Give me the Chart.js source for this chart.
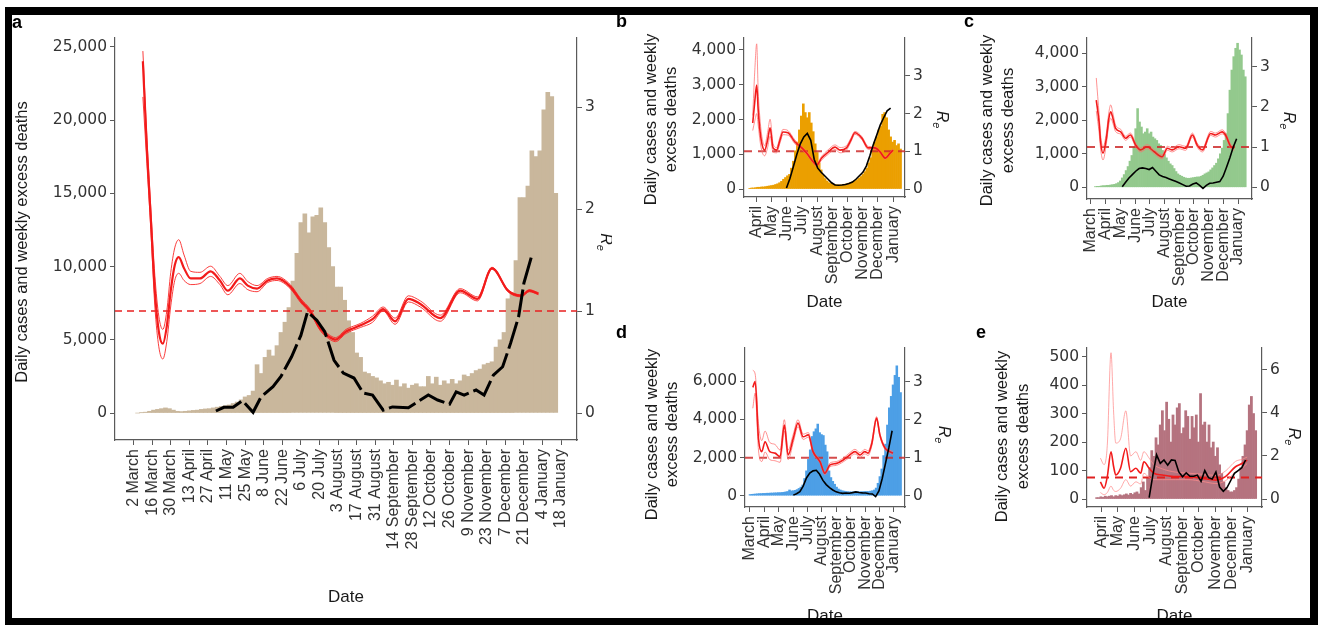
<!DOCTYPE html>
<html lang="en">
<head>
<meta charset="UTF-8">
<title>Daily cases, weekly excess deaths and Re</title>
<script src="https://cdn.jsdelivr.net/npm/chart.js@4.4.1/dist/chart.umd.min.js"></script>
<style>
  html, body { margin: 0; padding: 0; background: #fff; }
  body { width: 1318px; height: 625px; position: relative; overflow: hidden; font-family: "Liberation Sans", Arial, sans-serif; }
  canvas.panel { position: absolute; }
  .frame { position: absolute; left: 5px; top: 7px; width: 1313px; height: 618px; box-sizing: border-box;
           border: 8px solid #000; border-left-width: 7px; border-bottom-width: 7px; pointer-events: none; z-index: 5; }
  .tag { position: absolute; font: bold 18px/18px "Liberation Sans", Arial, sans-serif; color: #000; z-index: 6; }
</style>
</head>
<body>
<div class="frame"></div>
<div class="tag" style="left:12px;top:13px">a</div>
<div class="tag" style="left:616px;top:12px">b</div>
<div class="tag" style="left:964px;top:12px">c</div>
<div class="tag" style="left:616px;top:323px">d</div>
<div class="tag" style="left:976px;top:323px">e</div>

<script>
// days are counted from 2 March 2020 (day 0)
const R_ONE = 1;

// ---- tick labels ----
const tickDaysA = [0, 14, 28, 42, 56, 70, 84, 98, 112, 126, 140, 154, 168, 182, 196, 210, 224, 238, 252, 266, 280, 294, 308, 322];
const tickLabelsA = ['2 March', '16 March', '30 March', '13 April', '27 April', '11 May', '25 May', '8 June', '22 June',
  '6 July', '20 July', '3 August', '17 August', '31 August', '14 September', '28 September', '12 October',
  '26 October', '9 November', '23 November', '7 December', '21 December', '4 January', '18 January'];
const monthDays = [-1, 30, 60, 91, 121, 152, 183, 213, 244, 274, 305];
const monthLabels = ['March', 'April', 'May', 'June', 'July', 'August', 'September', 'October', 'November', 'December', 'January'];

// ---- panel a ----
const casesA = [ // every 3 days from day 3
  0, 20, 60, 120, 200, 250, 300, 350, 300, 200,
  120, 100, 120, 150, 180, 200, 250, 280, 300, 350,
  400, 450, 500, 550, 650, 750, 900, 1100, 1200, 1500,
  3300, 2700, 3800, 4300, 3900, 4600, 5500, 6200, 7200, 9000,
  10900, 13000, 13600, 12300, 13400, 13500, 14000, 13000, 11300, 10000,
  8600, 8600, 7700, 6300, 5500, 4100, 3800, 2800, 2700, 2500,
  2400, 2200, 2000, 2100, 1900, 2250, 1800, 2000, 1700, 1900,
  2000, 1800, 1800, 2500, 2000, 2450, 1900, 2200, 2000, 2300,
  2000, 2200, 2600, 2500, 2700, 2900, 3000, 3300, 3400, 3500,
  4500, 5000, 5500, 7800, 8200, 10400, 14700, 14700, 15500, 17900,
  17500, 17900, 20700, 21900, 21600, 15000];
const deathDaysA = [62, 68, 75, 82, 90, 96, 105, 111, 119, 126, 131, 138, 144, 151, 158, 166, 173, 180, 188, 195,
  207, 222, 229, 238, 243, 249, 258, 264, 271, 278, 284, 290, 294, 300];
const deathsA = [140, 390, 390, 840, 50, 1100, 1800, 2500, 3840, 5300, 6900, 6340, 5550, 3600, 2730, 2390, 1360, 1230, 200, 420,
  360, 1230, 890, 610, 1450, 1230, 1570, 1230, 2590, 3160, 4770, 6570, 8870, 10780];
const rDaysA = [7, 10, 13, 16, 19, 22, 25, 28, 31, 34, 38, 43, 50, 58, 65, 71, 80, 86, 93, 101, 108, 118, 126, 133, 141,
  147, 152, 160, 171, 180, 188, 197, 207, 216, 231, 246, 259, 270, 282, 292, 298, 305];
const rMedA = [3.45, 2.6, 1.9, 1.2, 0.8, 0.68, 0.85, 1.2, 1.45, 1.53, 1.42, 1.32, 1.32, 1.39, 1.30, 1.20, 1.32, 1.25, 1.22, 1.30,
  1.32, 1.24, 1.10, 1.0, 0.82, 0.75, 0.72, 0.80, 0.86, 0.92, 1.02, 0.90, 1.12, 1.07, 0.93, 1.20, 1.12, 1.42, 1.20, 1.15, 1.20, 1.17];
const rHiA = [3.55, 2.7, 2.0, 1.35, 0.95, 0.82, 1.0, 1.38, 1.62, 1.70, 1.55, 1.39, 1.38, 1.44, 1.34, 1.25, 1.37, 1.29, 1.25, 1.32,
  1.34, 1.26, 1.12, 1.02, 0.84, 0.77, 0.74, 0.82, 0.88, 0.95, 1.04, 0.93, 1.15, 1.10, 0.96, 1.22, 1.14, 1.43, 1.21, 1.16, 1.21, 1.18];
const rLoA = [3.1, 2.45, 1.8, 1.05, 0.65, 0.53, 0.7, 1.05, 1.3, 1.37, 1.3, 1.26, 1.27, 1.34, 1.26, 1.16, 1.27, 1.21, 1.19, 1.28,
  1.30, 1.22, 1.08, 0.98, 0.80, 0.73, 0.70, 0.78, 0.84, 0.89, 1.0, 0.87, 1.09, 1.04, 0.90, 1.18, 1.10, 1.41, 1.19, 1.14, 1.19, 1.16];

// ---- panel b ----
const casesB = [ // every 4 days from day 16
  20, 30, 30, 40, 50, 50, 60, 60, 70, 80,
  90, 100, 110, 130, 150, 180, 220, 280, 330, 380,
  420, 600, 800, 1100, 1350, 1700, 2100, 2450, 2200, 2050,
  2200, 1900, 1650, 1300, 1050, 750, 550, 400, 300, 230,
  180, 160, 140, 130, 120, 115, 120, 130, 140, 150,
  170, 190, 210, 240, 270, 310, 360, 420, 500, 600,
  750, 900, 1150, 1350, 1500, 1700, 1800, 2150, 2200, 2050,
  1700, 1500, 1350, 1400, 1250, 1300, 1150];
const deathDaysB = [90, 97, 104, 111, 118, 125, 132, 139, 146, 153, 160, 167, 174, 181, 188, 195, 202, 209, 216, 223,
  230, 237, 244, 251, 258, 265, 272, 279, 286, 293, 300];
const deathsB = [30, 300, 650, 1000, 1300, 1500, 1600, 1400, 850, 600, 480, 380, 280, 180, 115, 110, 115, 130, 160, 200,
  280, 380, 480, 660, 950, 1270, 1550, 1840, 2050, 2250, 2330];
const rDaysB = [22, 26, 30, 33, 37, 41, 46, 52, 57, 63, 70, 77, 83, 93, 107, 121, 131, 141, 151, 161, 174, 188, 198, 211,
  220, 228, 242, 255, 268, 279, 289, 299, 305];
const rMedB = [1.75, 2.3, 2.76, 2.1, 1.5, 1.17, 1.03, 1.3, 1.62, 1.09, 1.03, 1.3, 1.51, 1.49, 1.25, 1.09, 0.95, 0.77, 0.64, 0.82,
  0.98, 1.11, 1.03, 1.09, 1.3, 1.49, 1.35, 1.09, 1.09, 0.98, 0.82, 0.95, 1.03];
const rHiB = [1.95, 3.1, 3.85, 2.6, 1.8, 1.35, 1.15, 1.5, 1.85, 1.2, 1.1, 1.38, 1.58, 1.55, 1.3, 1.13, 0.99, 0.81, 0.68, 0.87,
  1.04, 1.17, 1.1, 1.15, 1.35, 1.53, 1.39, 1.13, 1.12, 1.01, 0.85, 0.98, 1.06];
const rLoB = [1.55, 1.8, 2.0, 1.7, 1.25, 0.98, 0.88, 1.1, 1.4, 0.98, 0.96, 1.22, 1.44, 1.43, 1.2, 1.05, 0.91, 0.73, 0.60, 0.77,
  0.92, 1.05, 0.96, 1.03, 1.25, 1.45, 1.31, 1.05, 1.06, 0.95, 0.79, 0.92, 1.0];

// ---- panel c ----
const casesC = [ // every 4 days from day 8
  20, 30, 30, 40, 50, 50, 60, 60, 70, 80,
  90, 110, 140, 190, 280, 380, 500, 620, 780, 950,
  1200, 1750, 2350, 1950, 1800, 1600, 1650, 1750, 1600, 1650,
  1500, 1450, 1400, 1300, 1250, 1100, 980, 880, 780, 700,
  650, 560, 470, 400, 360, 330, 300, 280, 270, 270,
  280, 290, 300, 310, 310, 330, 360, 400, 430, 460,
  520, 580, 650, 720, 850, 1000, 1170, 1400, 1600, 2200,
  2900, 3500, 3900, 4150, 4300, 4100, 3950, 3500, 3300];
const deathDaysC = [64, 71, 78, 85, 92, 99, 106, 113, 120, 127, 134, 141, 148, 155, 162, 169, 176, 183, 190, 197,
  204, 211, 218, 225, 232, 239, 246, 253, 260, 267, 274, 281, 288, 295, 302];
const deathsC = [20, 150, 280, 380, 480, 560, 580, 560, 530, 590, 480, 370, 320, 290, 250, 210, 170, 130, 80, 30,
  40, 100, 130, 60, -30, 60, 120, 130, 150, 170, 330, 600, 880, 1200, 1450];
const rDaysC = [10, 16, 19, 24, 31, 36, 40, 45, 50, 61, 71, 81, 92, 102, 116, 130, 147, 158, 168, 182, 196, 210, 220, 231,
  248, 258, 272, 279, 290, 297];
const rMedC = [2.17, 1.6, 1.13, 0.85, 1.22, 1.7, 1.88, 1.7, 1.47, 1.38, 1.22, 1.30, 1.05, 0.93, 1.01, 0.89, 0.76, 0.97, 0.93, 1.01,
  0.97, 1.30, 1.05, 0.93, 1.34, 1.30, 1.38, 1.30, 1.01, 0.97];
const rHiC = [2.72, 1.8, 1.3, 1.0, 1.35, 1.85, 2.05, 1.82, 1.55, 1.44, 1.27, 1.35, 1.1, 0.98, 1.06, 0.94, 0.81, 1.02, 0.98, 1.06,
  1.02, 1.35, 1.1, 0.98, 1.39, 1.35, 1.43, 1.35, 1.06, 1.02];
const rLoC = [1.9, 1.35, 0.95, 0.68, 1.08, 1.55, 1.72, 1.58, 1.39, 1.32, 1.17, 1.25, 1.0, 0.88, 0.96, 0.84, 0.71, 0.92, 0.88, 0.96,
  0.92, 1.25, 1.0, 0.88, 1.29, 1.25, 1.33, 1.25, 0.96, 0.92];

// ---- panel d ----
const casesD = [ // every 4 days from day -1
  60, 70, 80, 90, 100, 110, 110, 120, 120, 130,
  130, 140, 140, 150, 150, 160, 160, 170, 180, 200,
  220, 300, 250, 260, 280, 320, 380, 450, 560, 900,
  1300, 1900, 2400, 3100, 3350, 3500, 3750, 3300, 3200, 3150,
  2650, 2300, 1300, 950, 750, 600, 450, 350, 300, 260,
  240, 220, 210, 200, 200, 200, 210, 210, 200, 210,
  210, 220, 220, 220, 240, 260, 300, 400, 650, 1000,
  1400, 2100, 2700, 3700, 4600, 5200, 5800, 6300, 6800, 6200,
  5400];
const deathDaysD = [91, 98, 105, 112, 119, 126, 133, 140, 147, 154, 161, 168, 175, 182, 189, 196, 203, 210, 217, 224,
  231, 238, 245, 252, 259, 266, 273, 280, 287, 294, 301];
const deathsD = [30, 100, 210, 500, 930, 1180, 1300, 1330, 1120, 800, 580, 420, 300, 200, 150, 120, 140, 130, 160, 200,
  170, 150, 140, 100, 90, -50, 250, 900, 1700, 2500, 3400];
const rDaysD = [5, 10, 17, 24, 31, 41, 52, 63, 72, 80, 91, 101, 112, 123, 133, 148, 158, 169, 183, 197, 211, 222, 233, 243,
  250, 258, 268, 275, 286, 296, 303];
const rMedD = [2.85, 3.0, 1.51, 1.16, 1.42, 1.16, 1.12, 1.03, 1.86, 1.07, 1.51, 1.91, 1.55, 1.6, 1.16, 0.89, 0.59, 0.81, 0.85, 0.94,
  1.07, 1.16, 1.07, 1.16, 1.12, 1.38, 2.04, 1.6, 1.25, 1.16, 1.12];
const rHiD = [3.3, 3.2, 1.9, 1.45, 1.7, 1.4, 1.35, 1.2, 2.0, 1.2, 1.62, 2.0, 1.62, 1.66, 1.21, 0.93, 0.63, 0.86, 0.9, 0.99,
  1.13, 1.22, 1.13, 1.22, 1.18, 1.44, 2.08, 1.64, 1.29, 1.2, 1.16];
const rLoD = [2.3, 2.7, 1.2, 0.9, 1.15, 0.95, 0.92, 0.88, 1.7, 0.95, 1.4, 1.82, 1.48, 1.54, 1.11, 0.85, 0.55, 0.76, 0.8, 0.89,
  1.01, 1.10, 1.01, 1.10, 1.06, 1.32, 2.0, 1.56, 1.21, 1.12, 1.08];

// ---- panel e ----
const casesE = [ // every 4 days from day 20
  5, 5, 8, 6, 10, 8, 10, 12, 8, 12,
  10, 15, 12, 15, 18, 14, 20, 16, 22, 25,
  18, 40, 60, 30, 75, 110, 170, 150, 215, 190,
  260, 310, 240, 340, 280, 200, 295, 260, 320, 335,
  230, 250, 310, 290, 210, 290, 250, 295, 200, 370,
  260, 270, 200, 260, 180, 200, 150, 180, 120, 90,
  60, 40, 30, 25, 25, 30, 40, 70, 110, 150,
  190, 240, 330, 360, 300, 240];
const deathDaysE = [119, 126, 133, 140, 147, 154, 161, 168, 175, 182, 189, 196, 203, 210, 217, 224, 231, 238, 245, 252,
  259, 266, 273, 280, 287, 294, 301];
const deathsE = [5, 84, 155, 125, 137, 119, 137, 135, 95, 78, 92, 80, 80, 84, 62, 100, 75, 70, 95, 42,
  27, 40, 65, 90, 100, 110, 137];
const rDaysE = [27, 34, 40, 47, 52, 56, 65, 75, 84, 94, 103, 109, 119, 128, 144, 169, 194, 219, 245, 263, 282, 295, 304];
const rMedE = [0.80, 0.50, 1.04, 2.2, 1.5, 1.12, 1.43, 2.36, 1.27, 1.43, 1.2, 1.73, 1.43, 1.2, 1.12, 1.04, 1.04, 0.96, 0.88, 1.04,
  1.5, 1.66, 1.81];
const rHiE = [1.9, 1.6, 2.5, 6.8, 4.0, 2.6, 2.8, 4.1, 2.0, 2.2, 1.8, 2.2, 1.9, 1.6, 1.4, 1.25, 1.2, 1.15, 1.1, 1.3, 1.75, 1.85, 1.95];
const rLoE = [0.3, 0.2, 0.3, 0.6, 0.4, 0.35, 0.5, 0.9, 0.6, 0.8, 0.7, 1.2, 1.0, 0.9, 0.9, 0.9, 0.9, 0.82, 0.72, 0.85, 1.25, 1.45, 1.65];

// ---- styling ----
const AXIS_COLOR = '#5a5a5a';
const TICK_COLOR = '#333';
const X_FONT = { family: '"Liberation Sans", Arial, sans-serif', size: 16 };
const Y_FONT = { family: '"DejaVu Sans", sans-serif', size: 15.5 };
const TITLE_FONT = '16.5px "Liberation Sans", Arial, sans-serif';

const fmt = v => String(v).replace(/\B(?=(\d{3})+(?!\d))/g, ',');

// axis titles drawn around the plot area
const textPlugin = {
  id: 'panelText',
  afterDraw(chart, args, o) {
    const { ctx, chartArea: ca } = chart;
    const cy = (ca.top + ca.bottom) / 2 + o.dy;
    ctx.save();
    ctx.fillStyle = '#1a1a1a';
    ctx.textAlign = 'center';
    ctx.textBaseline = 'middle';
    ctx.font = '17px "Liberation Sans", Arial, sans-serif';
    ctx.fillText('Date', (ca.left + ca.right) / 2, ca.bottom + o.dateDy);
    ctx.font = TITLE_FONT;
    o.yTitle.forEach((line, i) => {
      ctx.save();
      ctx.translate(ca.left + o.yTitleDx[i], cy);
      ctx.rotate(-Math.PI / 2);
      ctx.fillText(line, 0, 0);
      ctx.restore();
    });
    // R with subscript e, reading downwards
    ctx.translate(ca.right + o.rTitleDx, cy);
    ctx.rotate(Math.PI / 2);
    ctx.textAlign = 'left';
    ctx.font = 'italic 16px "Liberation Sans", Arial, sans-serif';
    const w = ctx.measureText('R').width;
    ctx.fillText('R', -w / 2 - 3, 0);
    ctx.font = 'italic 11px "Liberation Sans", Arial, sans-serif';
    ctx.fillText('e', w / 2 - 3, 5);
    ctx.restore();
  }
};

function buildPanel(p) {
  const cv = document.createElement('canvas');
  cv.className = 'panel';
  cv.width = p.box[2];
  cv.height = p.box[3];
  cv.style.left = p.box[0] + 'px';
  cv.style.top = p.box[1] + 'px';
  document.body.appendChild(cv);

  const wl = p.plot[0] - p.box[0];
  const wr = p.box[0] + p.box[2] - p.plot[2];
  const padTop = p.plot[1] - p.box[1];
  const hb = p.box[1] + p.box[3] - p.plot[3];

  const bars = p.cases.map((v, i) => ({ x: p.start + i * p.step, y: v }));
  const deaths = p.deathDays.map((d, i) => ({ x: d, y: p.deaths[i] }));
  const rLine = arr => p.rDays.map((d, i) => ({ x: d, y: arr[i] }));
  const rStyle = { type: 'line', yAxisID: 'yR', pointRadius: 0, cubicInterpolationMode: 'monotone' };

  const tickGrid = { display: true, drawOnChartArea: false, drawTicks: true, tickLength: 5, color: AXIS_COLOR, offset: false };
  const border = { display: true, color: AXIS_COLOR, width: 1.2 };

  new Chart(cv, {
    type: 'bar',
    data: {
      datasets: [
        { type: 'line', data: deaths, yAxisID: 'y', borderColor: '#000', borderWidth: p.deathWidth,
          borderDash: p.deathDash, pointRadius: 0, order: 1 },
        { ...rStyle, data: rLine(p.rMed), borderColor: '#f21b1b', borderWidth: p.medWidth, order: 2 },
        { ...rStyle, data: rLine(p.rHi), borderColor: p.bandColor, borderWidth: 1, order: 3 },
        { ...rStyle, data: rLine(p.rLo), borderColor: p.bandColor, borderWidth: 1, order: 3 },
        { type: 'line', yAxisID: 'yR', data: [{ x: p.x[0], y: R_ONE }, { x: p.x[1], y: R_ONE }],
          borderColor: p.dashColor, borderWidth: p.dashWidth, borderDash: p.dashPattern, pointRadius: 0, order: 4 },
        { type: 'bar', data: bars, yAxisID: 'y', backgroundColor: p.barColor, borderWidth: 0,
          barPercentage: 1, categoryPercentage: 1, order: 5 }
      ]
    },
    options: {
      responsive: false,
      animation: false,
      devicePixelRatio: 1,
      layout: { padding: { top: padTop, left: 0, right: 0, bottom: 0 } },
      plugins: {
        legend: { display: false },
        tooltip: { enabled: false },
        panelText: p.text
      },
      scales: {
        x: {
          type: 'linear', min: p.x[0], max: p.x[1], offset: false, bounds: 'data',
          afterBuildTicks: s => { s.ticks = p.xTicks.map(v => ({ value: v })); },
          afterFit: s => { s.height = hb; },
          ticks: { autoSkip: false, minRotation: 90, maxRotation: 90, padding: 4, color: TICK_COLOR, font: X_FONT,
                   callback: (v, i) => p.xLabels[i] },
          grid: tickGrid, border: border
        },
        y: {
          type: 'linear', position: 'left', min: p.y[0], max: p.y[1], bounds: 'data',
          afterBuildTicks: s => { s.ticks = p.yTicks.map(v => ({ value: v })); },
          afterFit: s => { s.width = wl; },
          ticks: { padding: 3, color: TICK_COLOR, font: Y_FONT, callback: v => fmt(v) },
          grid: tickGrid, border: border
        },
        yR: {
          type: 'linear', axis: 'y', position: 'right', min: p.y[0] / p.k, max: p.y[1] / p.k, bounds: 'data',
          afterBuildTicks: s => { s.ticks = p.rTicks.map(v => ({ value: v })); },
          afterFit: s => { s.width = wr; },
          ticks: { padding: 3, color: TICK_COLOR, font: Y_FONT, callback: v => String(v) },
          grid: tickGrid, border: border
        }
      }
    },
    plugins: [textPlugin]
  });
}

const twoLineTitle = ['Daily cases and weekly', 'excess deaths'];
const smallBand = 'rgba(255,110,110,0.75)';
const smallDash = 'rgba(205,45,45,0.85)';

buildPanel({
  box: [12, 14, 600, 611], plot: [115, 38, 577, 440], x: [-14, 334], y: [-1840, 25600], k: 6960,
  xTicks: tickDaysA, xLabels: tickLabelsA, yTicks: [0, 5000, 10000, 15000, 20000, 25000], rTicks: [0, 1, 2, 3],
  cases: casesA, start: 3, step: 3, barColor: '#c9b79c',
  deathDays: deathDaysA, deaths: deathsA, deathWidth: 3, deathDash: [28, 5],
  rDays: rDaysA, rMed: rMedA, rHi: rHiA, rLo: rLoA, medWidth: 2.2, bandColor: 'rgba(250,40,40,0.9)',
  dashColor: '#e82020', dashWidth: 1.5, dashPattern: [7, 5],
  text: { yTitle: ['Daily cases and weekly excess deaths'], yTitleDx: [-93], rTitleDx: 28, dateDy: 157, dy: 3 }
});

buildPanel({
  box: [640, 14, 320, 301], plot: [744, 38, 905, 197], x: [4.4, 329], y: [-230, 4345], k: 1085,
  xTicks: monthDays.slice(1), xLabels: monthLabels.slice(1), yTicks: [0, 1000, 2000, 3000, 4000], rTicks: [0, 1, 2, 3],
  cases: casesB, start: 16, step: 4, barColor: '#eb9f00',
  deathDays: deathDaysB, deaths: deathsB, deathWidth: 1.6, deathDash: [],
  rDays: rDaysB, rMed: rMedB, rHi: rHiB, rLo: rLoB, medWidth: 1.6, bandColor: smallBand,
  dashColor: smallDash, dashWidth: 2, dashPattern: [8, 6],
  text: { yTitle: twoLineTitle, yTitleDx: [-93, -73], rTitleDx: 36, dateDy: 105, dy: 2 }
});

buildPanel({
  box: [975, 14, 335, 301], plot: [1087, 38, 1252, 199], x: [-9.3, 334], y: [-349, 4457], k: 1200,
  xTicks: monthDays, xLabels: monthLabels, yTicks: [0, 1000, 2000, 3000, 4000], rTicks: [0, 1, 2, 3],
  cases: casesC, start: 8, step: 4, barColor: '#93c98d',
  deathDays: deathDaysC, deaths: deathsC, deathWidth: 1.6, deathDash: [],
  rDays: rDaysC, rMed: rMedC, rHi: rHiC, rLo: rLoC, medWidth: 1.6, bandColor: smallBand,
  dashColor: smallDash, dashWidth: 2, dashPattern: [8, 6],
  text: { yTitle: twoLineTitle, yTitleDx: [-100, -79], rTitleDx: 36, dateDy: 103, dy: 2 }
});

buildPanel({
  box: [640, 318, 320, 307], plot: [745, 348, 905, 507], x: [-11.6, 328.4], y: [-592, 7733], k: 1990,
  xTicks: monthDays, xLabels: monthLabels, yTicks: [0, 2000, 4000, 6000], rTicks: [0, 1, 2, 3],
  cases: casesD, start: -1, step: 4, barColor: '#4d9fe6',
  deathDays: deathDaysD, deaths: deathsD, deathWidth: 1.6, deathDash: [],
  rDays: rDaysD, rMed: rMedD, rHi: rHiD, rLo: rLoD, medWidth: 1.6, bandColor: smallBand,
  dashColor: smallDash, dashWidth: 2, dashPattern: [8, 6],
  text: { yTitle: twoLineTitle, yTitleDx: [-93, -73], rTitleDx: 38, dateDy: 109, dy: 7 }
});

buildPanel({
  box: [975, 318, 335, 307], plot: [1087, 348, 1262, 507], x: [1.7, 332], y: [-28, 530], k: 75.5,
  xTicks: monthDays.slice(1), xLabels: monthLabels.slice(1), yTicks: [0, 100, 200, 300, 400, 500], rTicks: [0, 2, 4, 6],
  cases: casesE, start: 20, step: 4, barColor: '#b5737f',
  deathDays: deathDaysE, deaths: deathsE, deathWidth: 1.6, deathDash: [],
  rDays: rDaysE, rMed: rMedE, rHi: rHiE, rLo: rLoE, medWidth: 1.6, bandColor: 'rgba(255,140,140,0.75)',
  dashColor: '#e02020', dashWidth: 2, dashPattern: [8, 6],
  text: { yTitle: twoLineTitle, yTitleDx: [-85, -64], rTitleDx: 31, dateDy: 109, dy: 9 }
});
</script>
</body>
</html>
